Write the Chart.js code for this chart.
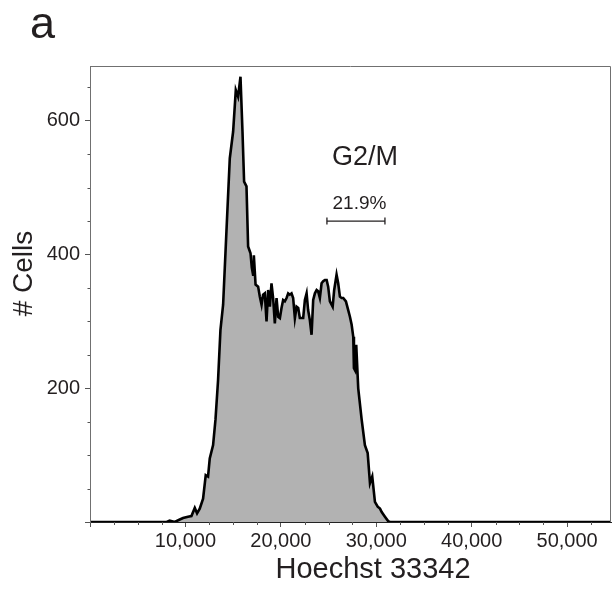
<!DOCTYPE html>
<html><head><meta charset="utf-8">
<script src="https://cdn.jsdelivr.net/npm/chart.js@4.4.1/dist/chart.umd.min.js"></script>
<style>html,body{margin:0;padding:0;background:#fff;}canvas{display:block;}</style>
</head><body>
<canvas id="c" width="613" height="590"></canvas>
<script>
const hoechst = [0,7300,8040,8350,8880,9300,9750,10270,10630,10980,
11220,11500,11850,12130,12370,12550,12900,13150,13420,13670,
13950,14300,14650,15000,15280,15520,15770,15980,16150,16400,
16570,16820,16960,17090,17170,17350,17620,17800,17980,18140,
18320,18500,18670,18850,19020,19190,19370,19550,19720,19900,
20070,20240,20420,20600,20770,20940,21120,21290,21470,21650,
21820,21990,22170,22340,22520,22700,22860,23040,23220,23390,
23570,23750,23910,24090,24270,24440,24620,24800,24960,25140,
25430,25590,25840,26010,26190,26370,26540,26820,27060,27240,
27420,27590,27660,27770,27900,28110,28470,28810,29100,29340,
29580,29860,30150,30390,30570,30910,31260,31440,54600];
const cells = [0,0,0,2,0,3,6,8,9,21,
13,20,35,70,68,95,115,153,212,287,
325,435,544,584,646,636,666,584,509,502,
412,402,380,370,399,355,352,337,325,340,
342,300,347,322,357,335,297,335,307,305,
320,332,330,335,342,340,342,335,305,322,
320,305,305,305,332,342,317,302,280,332,
342,347,345,335,357,360,362,362,352,330,
322,347,370,357,337,335,335,330,317,307,
295,277,230,227,265,200,153,115,103,58,
68,30,23,20,15,8,1,0,0];
const xTickValues = [0,10000,20000,30000,40000,50000];
const yTickValues = [0,200,400,600];
const gateX = [24830, 30910];
const gateY = [450, 450];
const gateName = 'G2/M';
const gatePercent = '21.9%';
const panelLabel = 'a';
const xTitle = 'Hoechst 33342';
const yTitle = '# Cells';
const xRange = [0, 54600];
const yRange = [0, 682];

const FONT = "'Liberation Sans', Arial, Helvetica, sans-serif";
const INK = '#231f20';

const histPoints = hoechst.map((x,i)=>({x:x, y:cells[i]}));
const gatePoints = gateX.map((x,i)=>({x:x, y:gateY[i]}));

const decor = {
  id:'decor',
  afterDatasetsDraw(chart){
    const ctx = chart.ctx, a = chart.chartArea;
    const xs = chart.scales.x, ys = chart.scales.y;
    ctx.save();
    // frame
    ctx.strokeStyle = '#707070'; ctx.lineWidth = 1;
    ctx.beginPath();
    ctx.moveTo(a.left+0.5, a.bottom); ctx.lineTo(a.left+0.5, a.top+0.5);
    ctx.lineTo(a.right-0.5, a.top+0.5); ctx.lineTo(a.right-0.5, a.bottom);
    ctx.stroke();
    // minor ticks
    ctx.strokeStyle = '#555'; ctx.lineWidth = 1;
    ctx.beginPath();
    for (let v = 2500; v < xRange[1]; v += 2500) {
      if (v % 10000 === 0) continue;
      const px = Math.round(xs.getPixelForValue(v)) + 0.5;
      ctx.moveTo(px, a.bottom); ctx.lineTo(px, a.bottom + 3);
    }
    for (let v = 50; v < yRange[1]; v += 50) {
      if (v % 200 === 0) continue;
      const py = Math.round(ys.getPixelForValue(v)) + 0.5;
      ctx.moveTo(a.left - 2.5, py); ctx.lineTo(a.left, py);
    }
    ctx.stroke();
    // gate labels
    const gx = (xs.getPixelForValue(gateX[0]) + xs.getPixelForValue(gateX[1]))/2;
    const gy = ys.getPixelForValue(gateY[0]);
    ctx.fillStyle = INK;
    ctx.textAlign = 'center'; ctx.textBaseline = 'alphabetic';
    ctx.font = '27px ' + FONT;
    ctx.fillText(gateName, gx + 9, gy - 56);
    ctx.font = '19px ' + FONT;
    ctx.fillText(gatePercent, gx + 3.5, gy - 12);
    // axis titles
    ctx.font = '29px ' + FONT;
    ctx.fillText(xTitle, 373, 578);
    ctx.save();
    ctx.translate(32, 273.5);
    ctx.rotate(-Math.PI/2);
    ctx.font = '28px ' + FONT;
    ctx.fillText(yTitle, 0, 0);
    ctx.restore();
    // panel label
    ctx.textAlign = 'left';
    ctx.font = '45px ' + FONT;
    ctx.fillText(panelLabel, 30, 38);
    ctx.restore();
  }
};

new Chart(document.getElementById('c'), {
  type: 'line',
  data: {
    datasets: [
      {
        data: histPoints,
        borderColor: '#000',
        borderWidth: 2.6,
        backgroundColor: '#b2b2b2',
        fill: 'origin',
        pointRadius: 0,
        tension: 0,
        borderJoinStyle: 'miter'
      },
      {
        data: gatePoints,
        borderColor: INK,
        borderWidth: 1.3,
        fill: false,
        pointStyle: 'line',
        rotation: 90,
        pointRadius: 3.5,
        pointBorderWidth: 1.3,
        pointBorderColor: INK,
        pointBackgroundColor: INK
      }
    ]
  },
  options: {
    responsive: false,
    animation: false,
    devicePixelRatio: 1,
    layout: { autoPadding: false, padding: { left: 0, right: 2, top: 66, bottom: 0 } },
    plugins: { legend: { display: false }, tooltip: { enabled: false }, title: { display: false } },
    scales: {
      x: {
        type: 'linear',
        min: xRange[0], max: xRange[1],
        afterFit(s){ s.height = 68; s.paddingLeft = 0; s.paddingRight = 0; },
        afterBuildTicks(s){ s.ticks = xTickValues.map(v=>({value:v})); },
        ticks: {
          includeBounds: false,
          autoSkip: false,
          maxRotation: 0,
          padding: 2,
          color: INK,
          font: { family: FONT, size: 20 },
          callback: v => v === 0 ? '' : v.toLocaleString('en-US')
        },
        grid: { drawOnChartArea: false, drawTicks: true, tickLength: 5, tickColor: '#555' },
        border: { display: true, color: '#222', width: 1 }
      },
      y: {
        type: 'linear',
        min: yRange[0], max: yRange[1],
        afterFit(s){ s.width = 90; s.paddingTop = 0; s.paddingBottom = 0; },
        afterBuildTicks(s){ s.ticks = yTickValues.map(v=>({value:v})); },
        ticks: {
          includeBounds: false,
          autoSkip: false,
          padding: 5,
          color: INK,
          font: { family: FONT, size: 20 },
          callback: v => v === 0 ? '' : String(v)
        },
        grid: { drawOnChartArea: false, drawTicks: true, tickLength: 5, tickColor: '#555' },
        border: { display: true, color: '#707070', width: 1 }
      }
    }
  },
  plugins: [decor]
});
</script>
</body></html>
